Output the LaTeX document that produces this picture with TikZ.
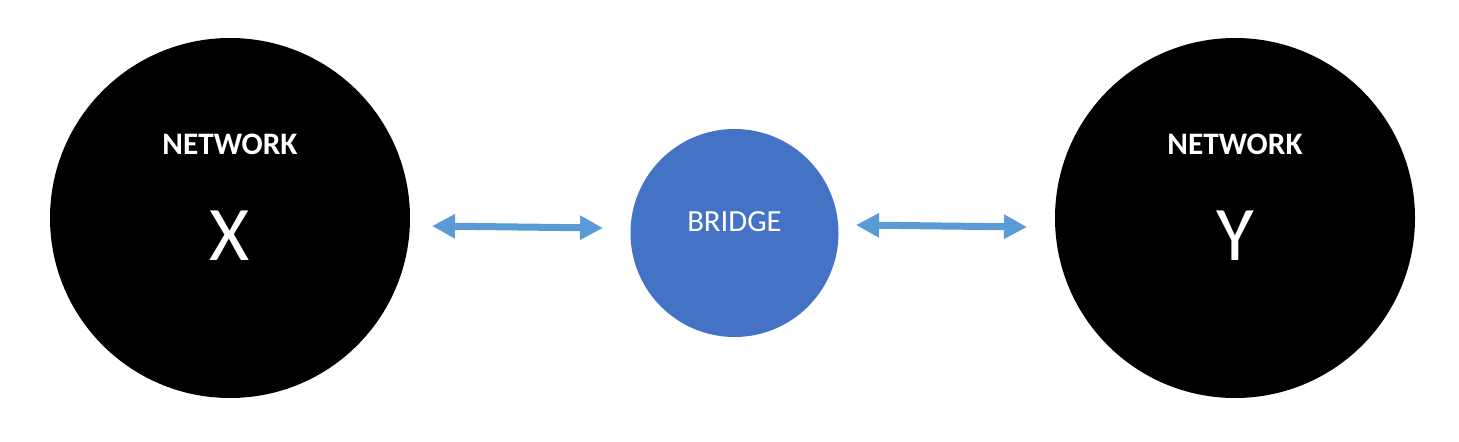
\documentclass[tikz,border=0pt]{standalone}
\usepackage{fontspec}
\setmainfont{Carlito}
\definecolor{bridgeblue}{HTML}{4472C4}
\definecolor{linkblue}{HTML}{5B9BD5}
\usetikzlibrary{arrows.meta}

\begin{document}
\begin{tikzpicture}[
  network/.style={circle, fill=black, draw=none, minimum size=7.2cm, inner sep=0pt},
  bridgenode/.style={circle, fill=bridgeblue, draw=none, minimum size=4.16cm, inner sep=0pt},
  nettitle/.style={text=white, font=\fontsize{17.8}{21}\selectfont\bfseries},
  netname/.style={text=white, font=\fontsize{44}{50}\selectfont},
  link/.style={draw=linkblue, line width=0.14cm,
    {Triangle[length=0.46cm,width=0.46cm]}-{Triangle[length=0.46cm,width=0.46cm]}}
]
  \useasboundingbox[fill=white] (0,0) rectangle (29.18,-8.84);

  % The two networks and the bridge
  \node[network] (netx) at (4.6,-4.36) {};
  \node[network] (nety) at (24.7,-4.36) {};
  \node[bridgenode] (bridge) at (14.69,-4.66) {};

  % Labels
  \node[nettitle] (titlex) at (4.6,-2.88) {NETWORK};
  \node[netname] (namex) at (4.6,-4.72) {X};
  \node[nettitle] (titley) at (24.7,-2.88) {NETWORK};
  \node[netname] (namey) at (24.7,-4.72) {Y};
  \node[text=white, font=\fontsize{17.5}{21}\selectfont] (bridgetext) at (bridge.center) [yshift=0.22cm] {BRIDGE};

  % Links
  \coordinate (lx) at (8.64,-4.52);
  \coordinate (lb) at (12.06,-4.56);
  \coordinate (rb) at (17.12,-4.5);
  \coordinate (ry) at (20.54,-4.54);
  \draw[link] (lx) -- (lb);
  \draw[link] (rb) -- (ry);
\end{tikzpicture}
\end{document}
